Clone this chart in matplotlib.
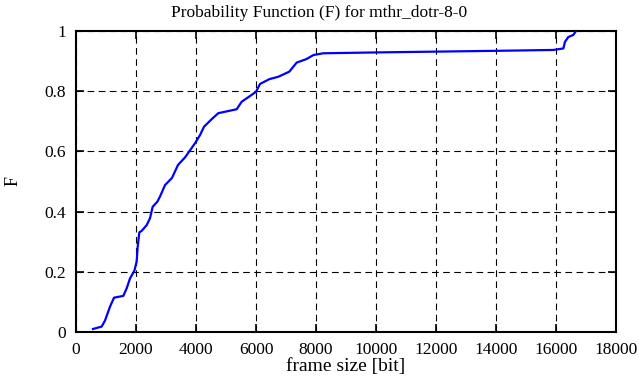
import matplotlib
matplotlib.use("Agg")
import matplotlib.pyplot as plt

plt.rcParams["font.family"] = ["Liberation Serif", "DejaVu Serif"]

# CDF: frame size [bit] vs F
frame_size = [567, 855, 967, 1133, 1267, 1578, 1689, 1800, 1944, 2022, 2056,
              2111, 2189, 2356, 2467, 2556, 2711, 2800, 2967, 3200, 3400,
              3633, 3967, 4133, 4267, 4522, 4744, 5356, 5522, 5800, 6000,
              6133, 6444, 6744, 7111, 7356, 7689, 7911, 8244, 10133, 13911,
              15911, 16244, 16300, 16411, 16578, 16667]
prob = [0.010, 0.018, 0.038, 0.084, 0.114, 0.120, 0.145, 0.178, 0.203, 0.234,
        0.283, 0.331, 0.336, 0.355, 0.378, 0.416, 0.433, 0.450, 0.488, 0.512,
        0.555, 0.580, 0.627, 0.654, 0.682, 0.707, 0.727, 0.740, 0.765, 0.784,
        0.798, 0.824, 0.840, 0.848, 0.865, 0.895, 0.907, 0.920, 0.926, 0.929,
        0.934, 0.937, 0.942, 0.964, 0.980, 0.987, 1.000]

x_ticks = list(range(0, 18001, 2000))
y_ticks = [0, 0.2, 0.4, 0.6, 0.8, 1]
y_labels = ["0", "0.2", "0.4", "0.6", "0.8", "1"]

fig = plt.figure(figsize=(6.39, 3.87), dpi=100)
ax = fig.add_axes([76 / 639, 55 / 387, 540 / 639, 301 / 387])

ax.plot(frame_size, prob, color="#0000ff", lw=1.6, zorder=3)

ax.set_xlim(0, 18000)
ax.set_ylim(0, 1)
ax.set_xticks(x_ticks)
ax.set_yticks(y_ticks)
ax.set_yticklabels(y_labels)
ax.grid(True, color="black", linestyle=(0, (6, 4)), lw=0.8)
ax.tick_params(direction="in", top=True, right=True, length=6, width=1.2,
               labelsize=12.5, pad=7)
for s in ax.spines.values():
    s.set_linewidth(1.5)

# title is centred on the figure, not the axes
fig.text(0.5, 1 - 17 / 387, "Probability Function (F) for mthr_dotr-8-0",
         ha="center", va="baseline", fontsize=12.5)
ax.set_xlabel("frame size [bit]", fontsize=14, labelpad=0)
ax.set_ylabel("F", fontsize=13, labelpad=17)

fig.savefig("out.png", dpi=100, facecolor="white")
